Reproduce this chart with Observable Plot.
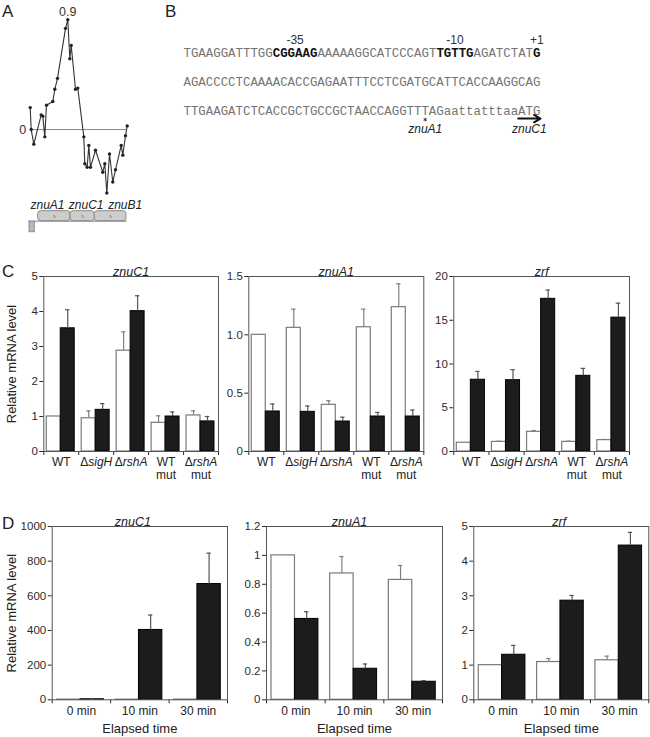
<!DOCTYPE html>
<html><head><meta charset="utf-8">
<script src="https://cdn.jsdelivr.net/npm/d3@7"></script>
<script src="https://cdn.jsdelivr.net/npm/@observablehq/plot@0.6"></script>
<style>
body{margin:0;background:#fff;}
#fig{position:relative;width:650px;height:737px;overflow:hidden;font-family:"Liberation Sans",Arial,sans-serif;background:#fff;}
.lab{position:absolute;font-size:17px;line-height:17px;color:#222;}
</style></head><body><div id="fig"></div>
<script>
// ---------- Panel A: profile values ----------
const profilePos = [0, 1, 3.6, 11, 12.6, 14.6, 16.3, 22.6, 24.6, 27.3, 35.3, 37.6, 39.6, 41, 45.3, 47.6, 53.6, 54.6, 57, 58.6, 60.3, 65.3, 72.6, 74.6, 76.6, 79.3, 82.6, 85.3, 91, 92.6, 95.3, 97];
const profileVal = [0.18, 0.0, -0.12, 0.12, 0.11, -0.06, 0.20, 0.23, 0.33, 0.42, 0.83, 0.90, 0.58, 0.69, 0.33, 0.34, -0.06, -0.28, -0.31, -0.13, -0.31, -0.17, -0.35, -0.28, -0.52, -0.20, -0.43, -0.33, -0.13, -0.21, -0.05, 0.03];
// gene map (same position units)
const geneNames = ["znuA1", "znuC1", "znuB1"];
const geneStart = [8, 40.3, 64.6];
const geneEnd = [40.3, 64.6, 96.3];
const geneLabelPos = [0.3, 38.6, 78];
const locusExtent = [-1.4, 97];
const upstreamBox = [-0.7, 4.6];

// ---------- Panel B: sequence ----------
const seqLine1 = "TGAAGGATTTGGCGGAAGAAAAAGGCATCCCAGTTGTTGAGATCTATG";
const seqLine2 = "AGACCCCTCAAAACACCGAGAATTTCCTCGATGCATTCACCAAGGCAG";
const seqLine3 = "TTGAAGATCTCACCGCTGCCGCTAACCAGGTTTAGaattatttaaATG";
const motifLabels = ["-35", "-10", "+1"];
const motifStart = [12, 34, 47];
const motifLength = [6, 5, 1];
const annotLabels = ["znuA1", "znuC1"];
const annotStart = [32, 45];
const annotLength = [1, 3];

// ---------- Panel C ----------
const cGroups = ["WT", "\u0394sigH", "\u0394rshA", "WT\nmut", "\u0394rshA\nmut"];
const cZnuC1White = [1.0, 0.95, 2.88, 0.82, 1.03];
const cZnuC1WhiteSD = [0, 0.21, 0.54, 0.20, 0.13];
const cZnuC1Black = [3.52, 1.19, 4.01, 1.00, 0.86];
const cZnuC1BlackSD = [0.53, 0.18, 0.44, 0.13, 0.14];
const cZnuA1White = [1.0, 1.06, 0.40, 1.065, 1.237];
const cZnuA1WhiteSD = [0, 0.16, 0.035, 0.155, 0.20];
const cZnuA1Black = [0.343, 0.34, 0.257, 0.30, 0.30];
const cZnuA1BlackSD = [0.065, 0.05, 0.037, 0.035, 0.055];
const cZrfWhite = [1.0, 1.1, 2.25, 1.1, 1.3];
const cZrfWhiteSD = [0, 0.07, 0.15, 0.08, 0.08];
const cZrfBlack = [8.2, 8.15, 17.45, 8.65, 15.3];
const cZrfBlackSD = [0.95, 1.2, 1.0, 0.85, 1.65];

// ---------- Panel D ----------
const dGroups = ["0 min", "10 min", "30 min"];
const dZnuC1White = [1.0, 0.9, 1.1];
const dZnuC1WhiteSD = [0, 0, 0];
const dZnuC1Black = [3, 403, 668];
const dZnuC1BlackSD = [1, 86, 178];
const dZnuA1White = [1.0, 0.875, 0.83];
const dZnuA1WhiteSD = [0, 0.117, 0.10];
const dZnuA1Black = [0.56, 0.215, 0.125];
const dZnuA1BlackSD = [0.05, 0.033, 0.008];
const dZrfWhite = [1.0, 1.09, 1.14];
const dZrfWhiteSD = [0, 0.10, 0.12];
const dZrfBlack = [1.30, 2.86, 4.45];
const dZrfBlackSD = [0.27, 0.15, 0.38];

// ---------- helpers ----------
const fig = document.getElementById("fig");
const SANS = '"Liberation Sans", Arial, sans-serif';
const baseStyle = {fontFamily: SANS, fontSize: "11.5px", color: "#2b2b2b", background: "transparent", overflow: "visible"};
function place(node, left, top) {
  node.style.position = "absolute";
  node.style.left = left + "px";
  node.style.top = top + "px";
  node.style.maxWidth = "none";
  fig.appendChild(node);
  return node;
}
function label(txt, left, top) {
  const d = document.createElement("div");
  d.className = "lab"; d.textContent = txt;
  d.style.left = left + "px"; d.style.top = top + "px";
  fig.appendChild(d);
}
function italicizeDelta(svg) {
  svg.querySelectorAll("text, tspan").forEach(node => {
    if (node.children.length === 0 && node.textContent.startsWith("\u0394")) {
      const rest = node.textContent.slice(1);
      node.textContent = "\u0394";
      const t = document.createElementNS("http://www.w3.org/2000/svg", "tspan");
      t.setAttribute("font-style", "italic");
      t.textContent = rest;
      node.appendChild(t);
    }
  });
}

// ---------- Panel A ----------
const profile = profilePos.map((x, i) => ({x, v: profileVal[i]}));
const peak = profile[d3.maxIndex(profileVal)];
const plotA = Plot.plot({
  width: 160, height: 210, marginLeft: 29.7, marginRight: 30.3, marginTop: 19.3, marginBottom: 7.8,
  x: {domain: [0, 100], axis: null},
  y: {domain: [-0.6, 0.9], axis: null},
  style: baseStyle,
  marks: [
    Plot.ruleY([0], {x1: profilePos[0], x2: locusExtent[1] + 0.3, stroke: "#8a8a8a", strokeWidth: 1}),
    Plot.line(profile, {x: "x", y: "v", stroke: "#333", strokeWidth: 1.1}),
    Plot.dot(profile, {x: "x", y: "v", r: 1.7, fill: "#222", stroke: "none"}),
    Plot.text([peak], {x: "x", y: "v", text: d => d3.format(".1f")(d.v), dy: -8, fontSize: 12.5, fill: "#333"}),
    Plot.text([profile[0]], {x: "x", y: () => 0, text: () => "0", textAnchor: "end", dx: -4, fontSize: 12.5, fill: "#333"})
  ]
});
place(plotA, 0, 0);

const genes = geneNames.map((name, i) => ({name, x1: geneStart[i], x2: geneEnd[i], lx: geneLabelPos[i]}));
const plotGenes = Plot.plot({
  width: 160, height: 45, marginLeft: 29.7, marginRight: 30.3, marginTop: 0, marginBottom: 0,
  x: {domain: [0, 100], axis: null},
  y: {domain: [-1.93, 2.57], axis: null},
  style: baseStyle,
  marks: [
    Plot.ruleY([0], {x1: locusExtent[0], x2: locusExtent[1], stroke: "#808080"}),
    Plot.rect([upstreamBox], {x1: d => d[0], x2: d => d[1], y1: -1.1, y2: -0.05, fill: "#b8b8b8", stroke: "#909090"}),
    Plot.rect(genes, {x1: "x1", x2: "x2", y1: 0, y2: 1, fill: "#cdcdcd", stroke: "#8a8a8a", rx: 3}),
    Plot.text(genes, {x: d => (d.x1 + d.x2) / 2, y: 0.5, text: () => "\u203A", fontSize: 8, fill: "#666"}),
    Plot.text(genes, {x: "lx", y: 1, text: "name", textAnchor: "start", dy: -6.5, fontStyle: "italic", fontSize: 12, fill: "#222"})
  ]
});
place(plotGenes, 0, 195);

// ---------- Panel B ----------
const seqLines = [seqLine1, seqLine2, seqLine3];
const motifs = motifLabels.map((lab, i) => ({label: lab, start: motifStart[i], len: motifLength[i], row: 0}));
const segs = [];
seqLines.forEach((line, row) => {
  const bold = Array.from(line, (_, k) => motifs.some(m => m.row === row && k >= m.start && k < m.start + m.len));
  let s = 0;
  for (let k = 1; k <= line.length; k++) {
    if (k === line.length || bold[k] !== bold[s]) {
      segs.push({row, start: s, text: line.slice(s, k), bold: bold[s]});
      s = k;
    }
  }
});
const annots = annotLabels.map((lab, i) => ({label: lab, start: annotStart[i], end: annotStart[i] + annotLength[i]}));
const MONO = '"Liberation Mono", "Courier New", monospace';
const plotB = Plot.plot({
  width: 490, height: 140, marginLeft: 23, marginRight: 110, marginTop: 0, marginBottom: 0,
  x: {domain: [0, 48], axis: null},
  y: {domain: [-1.788, 3.007], reverse: true, axis: null},
  style: baseStyle,
  marks: [
    Plot.text(segs.filter(s => !s.bold), {x: "start", y: "row", text: "text", textAnchor: "start", fontFamily: MONO, fontSize: 12.4, fill: "#747474"}),
    Plot.text(segs.filter(s => s.bold), {x: "start", y: "row", text: "text", textAnchor: "start", fontFamily: MONO, fontSize: 12.4, fontWeight: "bold", fill: "#111"}),
    Plot.text(motifs, {x: d => d.start + d.len / 2, y: "row", text: "label", dy: -12.5, fontSize: 12, fill: "#333"}),
    Plot.dot([annots[0]], {x: d => (d.start + d.end) / 2, y: () => 2, symbol: "asterisk", r: 1.8, dy: 8.5, stroke: "#333", strokeWidth: 0.9}),
    Plot.text(annots, {x: d => (d.start + d.end) / 2, y: () => 2, text: "label", dy: 18.5, fontStyle: "italic", fontSize: 12, fill: "#222"}),
    Plot.arrow([annots[1]], {x1: "start", x2: "end", y1: () => 2, y2: () => 2, dy: 7.5, stroke: "#111", strokeWidth: 2, headLength: 6})
  ]
});
place(plotB, 160, 0);

// ---------- bar panels ----------
function barPanel(o) {
  const n = o.groups.length;
  const rows = [];
  o.groups.forEach((g, i) => {
    rows.push({i, kind: "white", v: o.white[i], sd: o.whiteSD[i]});
    rows.push({i, kind: "black", v: o.black[i], sd: o.blackSD[i]});
  });
  const lo = {white: 0.085, black: 0.485}, hi = {white: 0.485, black: 0.885};
  const cx = d => d.i + (lo[d.kind] + hi[d.kind]) / 2;
  const plotW = o.width - o.mL - o.mR;
  const cap = 2.2 * n / plotW;
  const whites = rows.filter(d => d.kind === "white");
  const blacks = rows.filter(d => d.kind === "black");
  const wErr = whites.filter(d => d.sd > 0), bErr = blacks.filter(d => d.sd > 0);
  const marks = [
    Plot.rect(whites, {x1: d => d.i + lo.white, x2: d => d.i + hi.white, y1: () => 0, y2: "v", fill: "#fff", stroke: "#7a7a7a", strokeWidth: 1.2}),
    Plot.rect(blacks, {x1: d => d.i + lo.black, x2: d => d.i + hi.black, y1: () => 0, y2: "v", fill: "#1c1c1c", stroke: "#000", strokeWidth: 1}),
    Plot.ruleX(wErr, {x: cx, y1: "v", y2: d => d.v + d.sd, stroke: "#808080", strokeWidth: 1.2}),
    Plot.ruleY(wErr, {y: d => d.v + d.sd, x1: d => cx(d) - cap, x2: d => cx(d) + cap, stroke: "#808080", strokeWidth: 1.2}),
    Plot.ruleX(bErr, {x: cx, y1: "v", y2: d => d.v + d.sd, stroke: "#555", strokeWidth: 1.2}),
    Plot.ruleY(bErr, {y: d => d.v + d.sd, x1: d => cx(d) - cap, x2: d => cx(d) + cap, stroke: "#555", strokeWidth: 1.2}),
    Plot.frame({stroke: "#555", strokeWidth: 1}),
    Plot.text(o.groups, {x: (d, i) => i + 0.5, frameAnchor: "bottom", lineAnchor: "top", dy: o.labelDy, fontSize: 12, lineHeight: 1.1, fill: "#222"}),
    Plot.text([o.title], {frameAnchor: "top", dy: -9, dx: o.titleDx || 0, fontStyle: "italic", fontSize: 12.5, fill: "#222"})
  ];
  if (o.yLabel) marks.push(Plot.text([o.yLabel], {frameAnchor: "left", rotate: -90, textAnchor: "middle", dx: o.yLabelDx, fontSize: 13, fill: "#222"}));
  if (o.xLabel) marks.push(Plot.text([o.xLabel], {frameAnchor: "bottom", dy: o.xLabelDy, fontSize: 13, fill: "#222"}));
  const svg = Plot.plot({
    width: o.width, height: o.height,
    marginLeft: o.mL, marginRight: o.mR, marginTop: o.mT, marginBottom: o.mB,
    style: baseStyle,
    x: {domain: [0, n], ticks: d3.range(n + 1), tickFormat: () => "", tickSize: 4, label: null},
    y: {domain: o.yDomain, ticks: o.yTicks, tickFormat: o.yFormat, tickSize: 4, tickPadding: 2, label: null},
    marks
  });
  italicizeDelta(svg);
  return place(svg, o.left, o.top);
}

const cCommon = {groups: cGroups, top: 256, height: 226, mT: 20, mB: 31, labelDy: 5.4};
barPanel({...cCommon, left: 0, width: 222, mL: 43.3, mR: 4, title: "znuC1",
  white: cZnuC1White, whiteSD: cZnuC1WhiteSD, black: cZnuC1Black, blackSD: cZnuC1BlackSD,
  yDomain: [0, 5], yTicks: [0, 1, 2, 3, 4, 5], yFormat: d3.format("d"),
  yLabel: "Relative mRNA level", yLabelDx: -31.5});
barPanel({...cCommon, left: 222, width: 205, mL: 26.3, mR: 3.7, title: "znuA1",
  white: cZnuA1White, whiteSD: cZnuA1WhiteSD, black: cZnuA1Black, blackSD: cZnuA1BlackSD,
  yDomain: [0, 1.5], yTicks: [0, 0.5, 1, 1.5], yFormat: v => v === 0 ? "0" : d3.format(".1f")(v)});
barPanel({...cCommon, left: 427, width: 223, mL: 26.3, mR: 21, title: "zrf",
  white: cZrfWhite, whiteSD: cZrfWhiteSD, black: cZrfBlack, blackSD: cZrfBlackSD,
  yDomain: [0, 20], yTicks: [0, 5, 10, 15, 20], yFormat: d3.format("d")});

const dCommon = {groups: dGroups, top: 505, height: 232, mT: 21, mB: 37.7, labelDy: 6, xLabel: "Elapsed time", xLabelDy: 33};
barPanel({...dCommon, left: 0, width: 230, mL: 51.7, mR: 3, title: "znuC1", titleDx: -7,
  white: dZnuC1White, whiteSD: dZnuC1WhiteSD, black: dZnuC1Black, blackSD: dZnuC1BlackSD,
  yDomain: [0, 1000], yTicks: d3.range(0, 1001, 200), yFormat: d3.format("d"),
  yLabel: "Relative mRNA level", yLabelDx: -40.5});
barPanel({...dCommon, left: 230, width: 215, mL: 36, mR: 3, title: "znuA1", titleDx: -5,
  white: dZnuA1White, whiteSD: dZnuA1WhiteSD, black: dZnuA1Black, blackSD: dZnuA1BlackSD,
  yDomain: [0, 1.2], yTicks: [0, 0.2, 0.4, 0.6, 0.8, 1, 1.2], yFormat: d3.format("~g")});
barPanel({...dCommon, left: 445, width: 205, mL: 28.3, mR: 1.7, title: "zrf", titleDx: -2,
  white: dZrfWhite, whiteSD: dZrfWhiteSD, black: dZrfBlack, blackSD: dZrfBlackSD,
  yDomain: [0, 5], yTicks: [0, 1, 2, 3, 4, 5], yFormat: d3.format("d")});

// panel letters
label("A", 2, 2.8);
label("B", 165, 2.8);
label("C", 2, 262.8);
label("D", 2, 514.5);
</script></body></html>
